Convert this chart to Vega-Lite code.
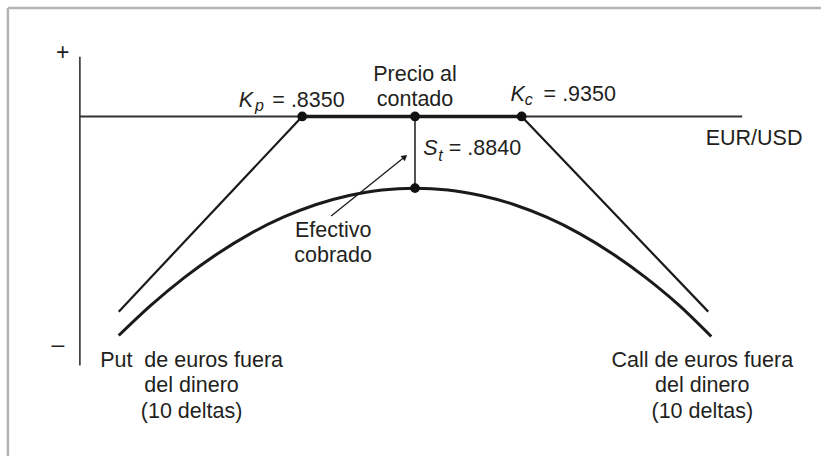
{
  "$schema": "https://vega.github.io/schema/vega-lite/v6.json",
  "width": 823,
  "height": 458,
  "autosize": {"type": "fit", "contains": "padding"},
  "padding": 0,
  "background": "white",
  "config": {"view": {"stroke": null}, "text": {"font": "Liberation Sans", "color": "#231f20"}},
  "encoding": {
    "x": {"field": "x", "type": "quantitative", "scale": {"domain": [0.6973, 1.0714], "nice": false, "zero": false}, "axis": null},
    "y": {"field": "y", "type": "quantitative", "scale": {"domain": [-170.5, 58.5], "nice": false, "zero": false}, "axis": null}
  },
  "layer": [
    {
      "data": {"values": [
        {"x": 0.7009, "x2": 1.0714, "y": 54.5, "y2": 54.5},
        {"x": 0.7009, "x2": 0.7009, "y": 54.5, "y2": -170.5}
      ]},
      "mark": {"type": "rule", "color": "#b3b3b3", "strokeWidth": 2.5},
      "encoding": {"x2": {"field": "x2"}, "y2": {"field": "y2"}}
    },
    {
      "data": {"values": [
        {"x": 0.7337, "x2": 1.0355, "y": 0, "y2": 0, "w": 2},
        {"x": 0.7337, "x2": 0.7337, "y": 30, "y2": -125, "w": 1.6}
      ]},
      "mark": {"type": "rule", "color": "#333333"},
      "encoding": {"x2": {"field": "x2"}, "y2": {"field": "y2"}, "strokeWidth": {"field": "w", "type": "quantitative", "scale": null}}
    },
    {
      "data": {"values": [
        {"x": 0.835, "x2": 0.935, "y": 0, "y2": 0, "w": 3.5},
        {"x": 0.835, "x2": 0.7514, "y": 0, "y2": -98, "w": 2.2},
        {"x": 0.935, "x2": 1.02, "y": 0, "y2": -98, "w": 2.2},
        {"x": 0.8864, "x2": 0.8864, "y": 0, "y2": -36, "w": 1.5},
        {"x": 0.8482, "x2": 0.8818, "y": -50, "y2": -20.25, "w": 1.3}
      ]},
      "mark": {"type": "rule", "color": "#1a1a1a"},
      "encoding": {"x2": {"field": "x2"}, "y2": {"field": "y2"}, "strokeWidth": {"field": "w", "type": "quantitative", "scale": null}}
    },
    {
      "data": {"values": [
        {"x": 0.7514, "y": -110}, {"x": 0.7664, "y": -94.5}, {"x": 0.7814, "y": -80.8},
        {"x": 0.7964, "y": -68.9}, {"x": 0.8114, "y": -58.8}, {"x": 0.8264, "y": -50.6},
        {"x": 0.8414, "y": -44.2}, {"x": 0.8564, "y": -39.7}, {"x": 0.8714, "y": -36.9},
        {"x": 0.8864, "y": -36}, {"x": 0.9014, "y": -36.9}, {"x": 0.9164, "y": -39.7},
        {"x": 0.9314, "y": -44.2}, {"x": 0.9464, "y": -50.6}, {"x": 0.9614, "y": -58.8},
        {"x": 0.9764, "y": -68.9}, {"x": 0.9914, "y": -80.8}, {"x": 1.0064, "y": -94.5},
        {"x": 1.0214, "y": -110.5}
      ]},
      "mark": {"type": "line", "color": "#1a1a1a", "strokeWidth": 3, "interpolate": "monotone"},
      "encoding": {}
    },
    {
      "data": {"values": [{"x": 0.8818, "y": -20.25}]},
      "mark": {"type": "point", "shape": "triangle-up", "filled": true, "color": "#1a1a1a", "size": 45, "angle": 51, "opacity": 1},
      "encoding": {}
    },
    {
      "data": {"values": [
        {"x": 0.835, "y": 0}, {"x": 0.8864, "y": 0}, {"x": 0.935, "y": 0}, {"x": 0.8864, "y": -36}
      ]},
      "mark": {"type": "point", "shape": "circle", "filled": true, "color": "#111111", "size": 95, "opacity": 1},
      "encoding": {}
    },
    {
      "data": {"values": [
        {"x": 0.7259, "y": 32, "t": "+"},
        {"x": 0.7237, "y": -115, "t": "–"}
      ]},
      "mark": {"type": "text", "fontSize": 23, "align": "center", "baseline": "middle"},
      "encoding": {"text": {"field": "t"}}
    },
    {
      "data": {"values": [
        {"x": 0.8864, "y": 21, "t": "Precio al"},
        {"x": 0.8864, "y": 8.5, "t": "contado"},
        {"x": 1.0409, "y": -11.5, "t": "EUR/USD"},
        {"x": 0.8491, "y": -57.5, "t": "Efectivo"},
        {"x": 0.8491, "y": -70, "t": "cobrado"},
        {"x": 0.7846, "y": -123, "t": "Put\u00a0 de euros fuera"},
        {"x": 0.7846, "y": -135.5, "t": "del dinero"},
        {"x": 0.7846, "y": -148.5, "t": "(10 deltas)"},
        {"x": 1.0173, "y": -123, "t": "Call de euros fuera"},
        {"x": 1.0173, "y": -135.5, "t": "del dinero"},
        {"x": 1.0173, "y": -148.5, "t": "(10 deltas)"}
      ]},
      "mark": {"type": "text", "fontSize": 21.5, "align": "center", "baseline": "middle"},
      "encoding": {"text": {"field": "t"}}
    },
    {
      "data": {"values": [
        {"x": 0.8214, "y": 5, "t": "= .8350"},
        {"x": 0.945, "y": 8, "t": "= .9350"},
        {"x": 0.9018, "y": -19.5, "t": "= .8840"}
      ]},
      "mark": {"type": "text", "fontSize": 21.5, "align": "left", "baseline": "alphabetic"},
      "encoding": {"text": {"field": "t"}}
    },
    {
      "data": {"values": [
        {"x": 0.8094, "y": 5, "t": "K"},
        {"x": 0.9332, "y": 8, "t": "K"},
        {"x": 0.8934, "y": -19.5, "t": "S"}
      ]},
      "mark": {"type": "text", "fontSize": 21.5, "fontStyle": "italic", "align": "center", "baseline": "alphabetic"},
      "encoding": {"text": {"field": "t"}}
    },
    {
      "data": {"values": [
        {"x": 0.8155, "y": 3, "t": "p"},
        {"x": 0.9382, "y": 6, "t": "c"},
        {"x": 0.898, "y": -22.3, "t": "t"}
      ]},
      "mark": {"type": "text", "fontSize": 16, "fontStyle": "italic", "align": "center", "baseline": "alphabetic"},
      "encoding": {"text": {"field": "t"}}
    }
  ]
}
